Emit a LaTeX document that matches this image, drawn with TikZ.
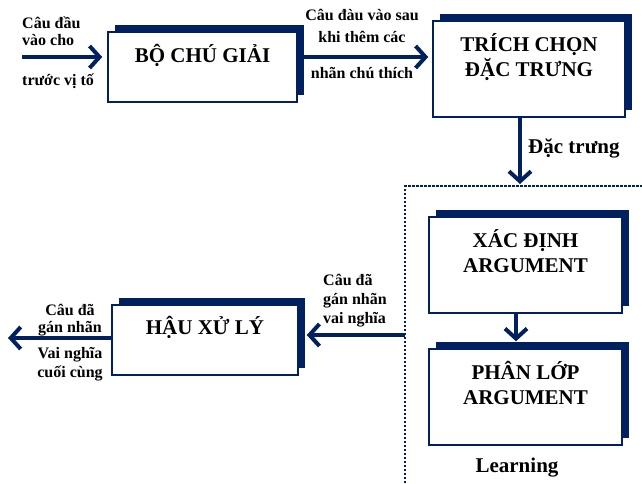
\documentclass[tikz,border=0pt]{standalone}
\usepackage{fontspec}
\setmainfont{Liberation Serif}
\usetikzlibrary{arrows.meta,shadows,positioning}
\definecolor{navy}{RGB}{0,32,96}
\tikzset{
  box/.style={draw=navy, line width=1.5pt, fill=white, inner sep=0pt,
    drop shadow={shadow xshift=7pt, shadow yshift=7pt, fill=navy, opacity=1}},
  title/.style={font=\bfseries\fontsize{21}{25}\selectfont, align=center, anchor=base, inner sep=0pt},
  lbl/.style={font=\bfseries\fontsize{16}{18}\selectfont, inner sep=0pt, anchor=base},
  flow/.style={navy, line width=4pt, -{Straight Barb[length=10pt,width=22pt]}},
}
\begin{document}
\begin{tikzpicture}[x=1pt,y=-1pt]
\useasboundingbox (0,0) rectangle (642,483);
% cac khoi
\node[box, minimum width=189pt, minimum height=70pt] (bo) at (202.5,67) {};
\node[box, minimum width=192pt, minimum height=96pt] (tr) at (529,69) {};
\node[box, minimum width=193pt, minimum height=96pt] (xa) at (525.5,265) {};
\node[box, minimum width=193pt, minimum height=96pt] (ph) at (525.5,397) {};
\node[box, minimum width=186pt, minimum height=70pt] (hau) at (205,340) {};

% (base = dong cuoi)
\node[title] (boT) at ([yshift=-31pt]bo.north) {BỘ CHÚ GIẢI};
\node[title] (trT) at ([yshift=-56pt]tr.north) {TRÍCH CHỌN\\ĐẶC TRƯNG};
\node[title] (xaT) at ([yshift=-56pt]xa.north) {XÁC ĐỊNH\\ARGUMENT};
\node[title] (phT) at ([yshift=-56pt]ph.north) {PHÂN LỚP\\ARGUMENT};
\node[title] (hauT) at ([yshift=-30pt]hau.north) {HẬU XỬ LÝ};

% khung learning
\coordinate (lt) at (405,186);
\draw[navy, line width=2.5pt, dash pattern=on 2.5pt off 1.5pt] (lt |- 0,483) -- (lt) -- (642,186);
\node[title] (learn) at (517,472) {Learning};

% mui ten
\coordinate (in) at (22,57);
\coordinate (d) at (520,0);
\coordinate (d2) at (516,0);
\coordinate (ret) at (405,335);
\coordinate (out) at (8,338);
\draw[flow, shorten >=5pt] (in) -- (in -| bo.west);
\draw[flow, shorten >=4pt] (bo.east |- in) -- (tr.west |- in);
\draw[flow, shorten >=2pt] (d |- tr.south) -- (d |- lt);
\draw[flow, shorten >=7pt] (d2 |- xa.south) -- (d2 |- ph.north);
\draw[flow, shorten >=8pt] (ret) -- (ret -| hau.east);
\draw[flow] (hau.west |- out) -- (out);

% nhan
\node[lbl, anchor=base west, align=left, font=\bfseries\fontsize{16}{17}\selectfont] (inL) at (22,45) {Câu đầu\\vào cho};
\node[lbl, anchor=base west] (inL2) at (22,85) {trước vị tố};
\node[lbl, align=center, font=\bfseries\fontsize{16}{22}\selectfont] (midL) at (362,42) {Câu đàu vào sau\\khi thêm các};
\node[lbl] (midL2) at (362,78) {nhãn chú thích};
\node[lbl, anchor=base west, font=\bfseries\fontsize{21}{24}\selectfont] (feat) at (528,153) {Đặc trưng};
\node[lbl, anchor=base west, align=left, font=\bfseries\fontsize{16}{19}\selectfont] (retL) at (323,323) {Câu đã\\gán nhãn\\vai nghĩa};
\node[lbl, align=center, font=\bfseries\fontsize{16}{17}\selectfont] (outL) at (70,332) {Câu đã\\gán nhãn};
\node[lbl, align=center, font=\bfseries\fontsize{16}{19}\selectfont] (outL2) at (70,377) {Vai nghĩa\\cuối cùng};
\end{tikzpicture}
\end{document}
